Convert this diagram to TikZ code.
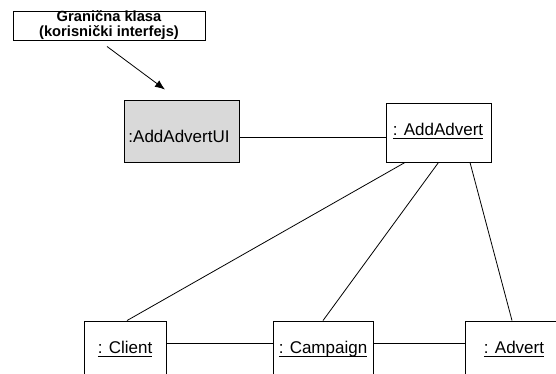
\documentclass[tikz,border=0pt]{standalone}
\usepackage{fontspec}
\setmainfont{Liberation Sans}
\usetikzlibrary{arrows.meta}
% object name with a fixed-depth underline
\newcommand{\objname}[1]{\setbox0\hbox{#1}\rlap{\rule[-4pt]{\wd0}{0.9pt}}\box0}

\begin{document}
\begin{tikzpicture}[x=1pt,y=-1pt,
  obj/.style={draw, line width=0.9pt, inner sep=0pt},
  lnk/.style={line width=0.8pt},
  objtext/.style={inner sep=0pt, font=\fontsize{17}{20}\selectfont, anchor=base},
]
\clip (0,0) rectangle (556,373);

% note on the boundary class
\node[draw, line width=0.9pt, minimum width=192pt, minimum height=29pt,
      align=center, inner sep=0pt,
      font=\bfseries\fontsize{14.7}{15}\selectfont] (note) at (109,25.5)
      {Granična klasa\\(korisnički interfejs)};

% objects
\node[obj, fill=black!15, minimum width=115pt, minimum height=62pt] (ui) at (181.5,131) {};
\node[objtext] (uit) at (179,142) {:AddAdvertUI};

\node[obj, minimum width=105pt, minimum height=59pt] (aa) at (438.5,132.5) {};
\node[objtext] (aat) at (438,135) {\objname{: AddAdvert}};

\node[obj, minimum width=82pt, minimum height=70pt] (cl) at (125,356) {};
\node[objtext] (clt) at (125,353) {\objname{: Client}};

\node[obj, minimum width=100pt, minimum height=70pt] (cp) at (323,356) {};
\node[objtext] (cpt) at (323,353) {\objname{: Campaign}};

\node[obj, minimum width=98pt, minimum height=70pt] (ad) at (514,356) {};
\node[objtext] (adt) at (514,353) {\objname{: Advert}};

% note arrow
\coordinate (arrS) at ([shift={(-2pt,-6pt)}]note.south);
\coordinate (arrE) at ([shift={(-16.5pt,10pt)}]ui.north);
\draw[lnk, -{Latex[length=10pt,width=8pt]}] (arrS) -- (arrE);

% links
\draw[lnk] ([yshift=-6pt]ui.east) -- ([yshift=-6pt]ui.east -| aa.west);
\draw[lnk] ([xshift=-33.5pt]aa.south) -- ([xshift=2pt]cl.north);
\draw[lnk] (aa.south) -- (cp.north);
\draw[lnk] ([xshift=31.5pt]aa.south) -- ([xshift=-2pt]ad.north);
\draw[lnk] ([yshift=13pt]cl.east) -- ([yshift=13pt]cp.west);
\draw[lnk] ([yshift=13pt]cp.east) -- ([yshift=13pt]ad.west);
\end{tikzpicture}
\end{document}
